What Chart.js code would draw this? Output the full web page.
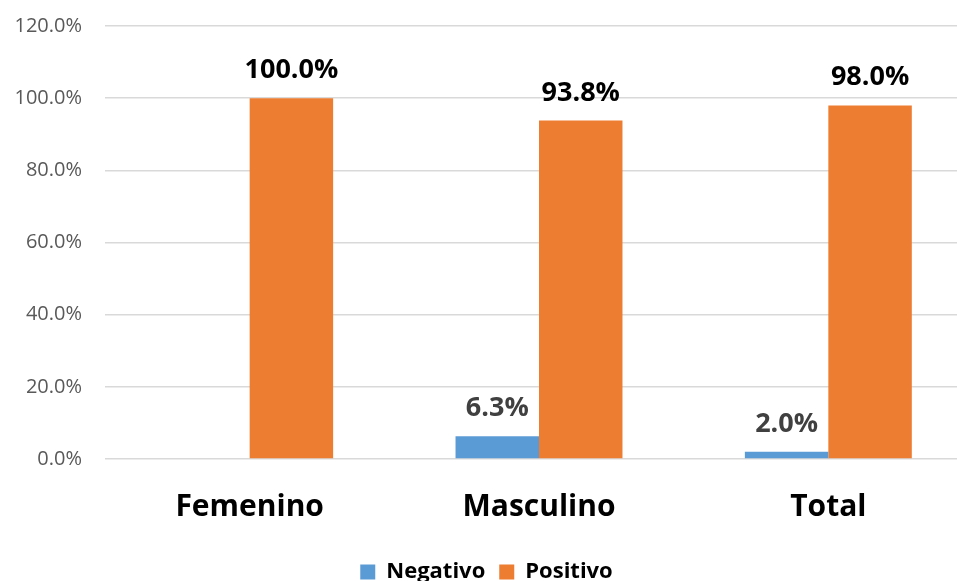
<!DOCTYPE html>
<html>
<head>
<meta charset="utf-8">
<script src="https://cdn.jsdelivr.net/npm/chart.js@4"></script>
<style>
    html, body { margin: 0; padding: 0; background: #fff; overflow: hidden; }
    #wrap { width: 1000px; height: 593px; }
</style>
</head>
<body>
<div id="wrap"><canvas id="chart"></canvas></div>
<script>
// datos
const categories = ['Femenino', 'Masculino', 'Total'];
const negativo = [0, 6.3, 2.0];
const positivo = [100.0, 93.8, 98.0];
const yTicks = [0, 20, 40, 60, 80, 100, 120];

const FONT = '"Open Sans", "Noto Sans", sans-serif';

// etiquetas encima de cada barra
const barLabels = {
    id: 'barLabels',
    afterDatasetsDraw(chart) {
        const ctx = chart.ctx;
        ctx.save();
        ctx.font = 'bold 27px ' + FONT;
        ctx.textAlign = 'center';
        ctx.textBaseline = 'alphabetic';
        chart.data.datasets.forEach((ds, i) => {
            const meta = chart.getDatasetMeta(i);
            meta.data.forEach((bar, j) => {
                const v = ds.data[j];
                if (!v) return; // sin etiqueta para 0
                ctx.fillStyle = ds.labelColor;
                ctx.fillText(v.toFixed(1) + '%', bar.x, bar.y - 20);
            });
        });
        ctx.restore();
    }
};

const ctx = document.getElementById('chart').getContext('2d');
new Chart(ctx, {
    type: 'bar',
    data: {
        labels: categories,
        datasets: [{
            label: 'Negativo',
            data: negativo,
            backgroundColor: '#5B9BD5',
            labelColor: '#404040'
        }, {
            label: 'Positivo',
            data: positivo,
            backgroundColor: '#ED7D31',
            labelColor: '#000000'
        }]
    },
    options: {
        responsive: true,
        maintainAspectRatio: false,
        animation: false,
        layout: { autoPadding: false, padding: { top: 26, right: 27, bottom: 0, left: 0 } },
        datasets: {
            bar: { categoryPercentage: 0.577, barPercentage: 1.0 }
        },
        plugins: {
            legend: {
                position: 'bottom',
                labels: {
                    boxWidth: 15,
                    boxHeight: 15,
                    padding: 14,
                    color: '#000',
                    font: { family: FONT, size: 22, weight: 'bold' }
                }
            },
            tooltip: { enabled: false }
        },
        scales: {
            x: {
                grid: { display: false, drawTicks: false },
                border: { display: false },
                ticks: {
                    color: '#000',
                    padding: 30,
                    font: { family: FONT, size: 30, weight: 'bold' }
                },
                afterFit(scale) { scale.height = 88; }
            },
            y: {
                min: 0,
                max: 120,
                afterBuildTicks(scale) {
                    scale.ticks = yTicks.map(v => ({ value: v }));
                },
                grid: { color: '#D9D9D9', lineWidth: 1.5, drawTicks: false },
                border: { display: false },
                ticks: {
                    color: '#595959',
                    padding: 23,
                    font: { family: FONT, size: 20 },
                    callback: v => v.toFixed(1) + '%'
                },
                afterFit(scale) {
                    scale.width = 105;
                    scale.paddingTop = 0;
                    scale.paddingBottom = 0;
                }
            }
        }
    },
    plugins: [barLabels]
});
</script>
</body>
</html>
